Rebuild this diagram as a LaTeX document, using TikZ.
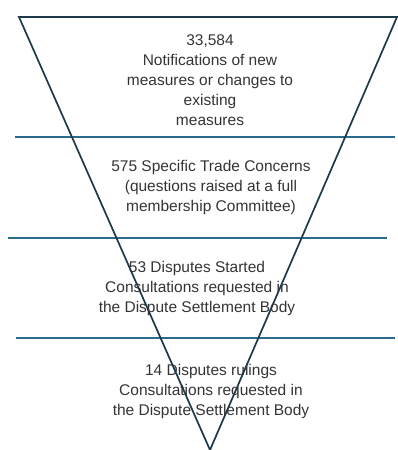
\documentclass[tikz,border=0pt]{standalone}
\usepackage{fontspec}
\setmainfont{Liberation Sans}
\usetikzlibrary{positioning}

\definecolor{funnelline}{RGB}{28,58,74}
\definecolor{levelline}{RGB}{42,106,142}
\definecolor{stagetext}{RGB}{52,52,52}

\begin{document}
\begin{tikzpicture}[
  x=1pt, y=-1pt,
  every node/.style={font=\fontsize{15.5}{20}\selectfont, align=center, text=stagetext},
  funnel/.style={draw=funnelline, line width=1.7pt},
  level/.style={draw=levelline, line width=1.3pt},
  stage/.style={inner sep=0pt}
]
\useasboundingbox (0,0) rectangle (397,450);

% corners of the funnel
\coordinate (tl) at (19,17);
\coordinate (tr) at (397,17);
\coordinate (tip) at (210,450);

% separating levels
\coordinate (a1) at (15,137);  \coordinate (b1) at (395,137);
\coordinate (a2) at (8,238);   \coordinate (b2) at (387,238);
\coordinate (a3) at (16,338);  \coordinate (b3) at (395,338);

\draw[level] (a1) -- (b1);
\draw[level] (a2) -- (b2);
\draw[level] (a3) -- (b3);

% the funnel itself
\draw[funnel] (tl) -- (tr) -- (tip) -- cycle;

% texts of each stage
\node[stage] (notif) at (210,80) {33,584\\Notifications of new\\measures or changes to\\existing\\measures};
\node[stage] (stc) at (211,187) {575 Specific Trade Concerns\\(questions raised at a full\\membership Committee)};
\node[stage] (started) at (197,288) {53 Disputes Started\\Consultations requested in\\the Dispute Settlement Body};
\node[stage] (rulings) at (211,391) {14 Disputes rulings\\Consultations requested in\\the Dispute Settlement Body};

\end{tikzpicture}
\end{document}
